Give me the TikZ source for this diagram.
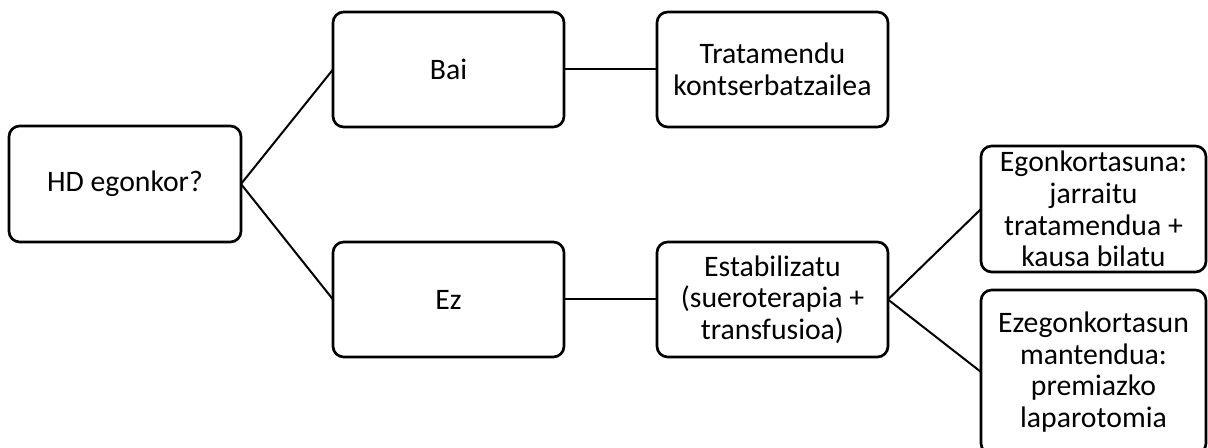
\documentclass[tikz,border=0pt]{standalone}
\usepackage{fontspec}
\setmainfont{Carlito}
\begin{document}
\begin{tikzpicture}[x=0.75pt,y=-0.75pt,
  box/.style={draw=black, line width=2pt, rounded corners=8pt, fill=white,
    rectangle, align=center, inner sep=0pt, outer sep=0pt,
    font=\fontsize{22.3}{23.8}\selectfont},
  std/.style={box, minimum width=231*0.75pt, minimum height=115*0.75pt},
  link/.style={draw=black, line width=1.5pt}]
  \useasboundingbox (0,0) rectangle (1208,448);
  \clip (0,0) rectangle (1208,448);

  % decision column
  \node[box, minimum width=232*0.75pt, minimum height=116*0.75pt] (hd) at (125,184) {HD egonkor?};
  \node[std] (bai) at (448.5,69.5) {Bai};
  \node[std] (ez) at (448.5,299.5) {Ez};

  % actions
  \node[std] (trat) at (772.5,69.5) {Tratamendu\\kontserbatzailea};
  \node[std] (estab) at (772.5,299.5) {Estabilizatu\\(sueroterapia +\\transfusioa)};

  % outcomes after stabilisation
  \node[box, minimum width=225*0.75pt, minimum height=126*0.75pt] (egon) at (1093.5,209)
    {Egonkortasuna:\\jarraitu\\tratamendua +\\kausa bilatu};
  \node[box, minimum width=225*0.75pt, minimum height=164*0.75pt] (ezegon) at (1093.5,372)
    {Ezegonkortasun\\mantendua:\\premiazko\\laparotomia};

  % connectors
  \draw[link] (hd.east) -- (bai.west);
  \draw[link] (hd.east) -- (ez.west);
  \draw[link] (bai.east) -- (trat.west);
  \draw[link] (ez.east) -- (estab.west);
  \draw[link] (estab.east) -- (egon.west);
  \draw[link] (estab.east) -- (ezegon.west);
\end{tikzpicture}
\end{document}
